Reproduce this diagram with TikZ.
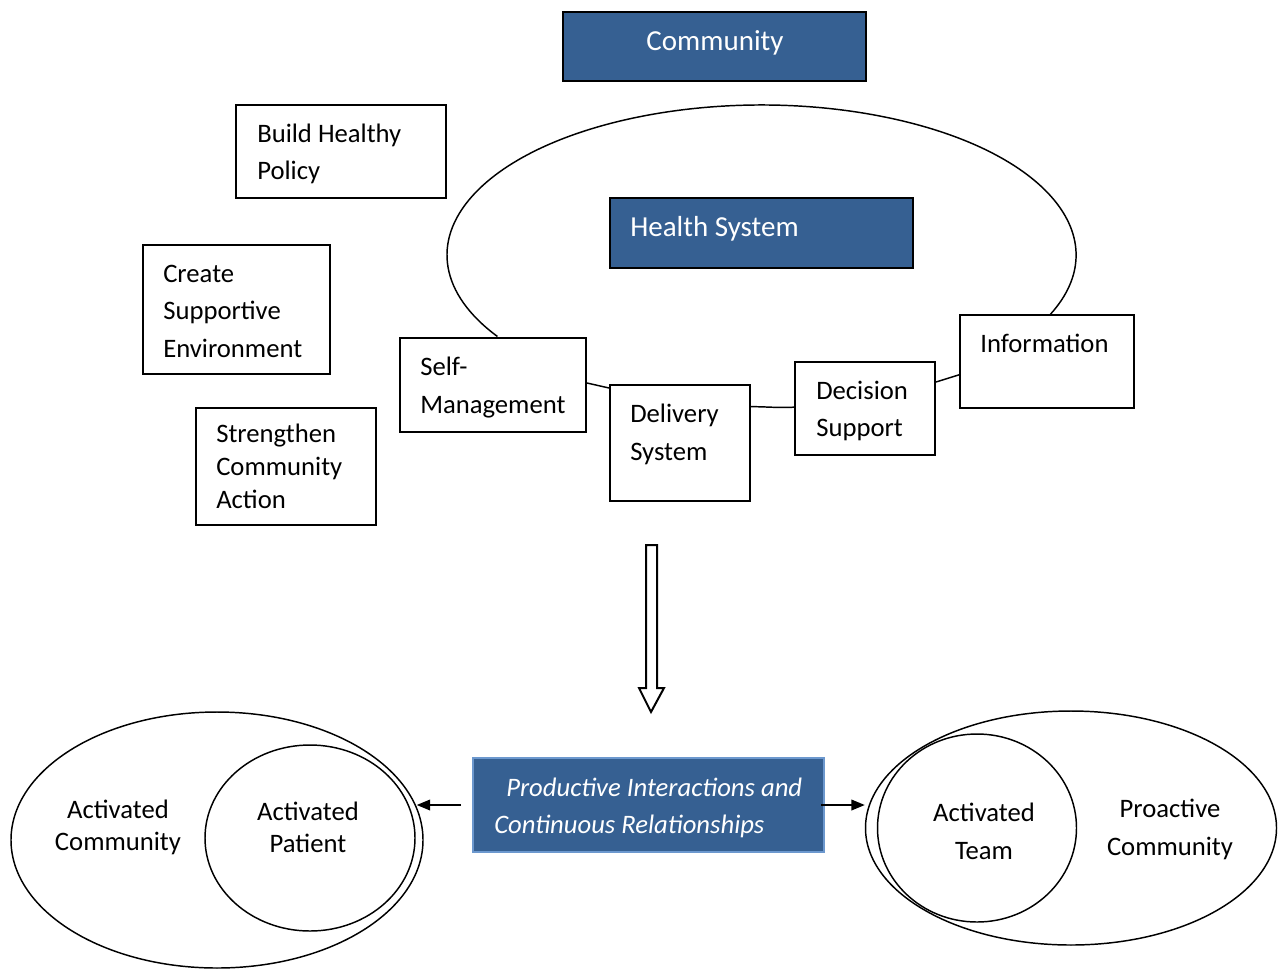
\documentclass[tikz,border=0pt]{standalone}
\usepackage{fontspec}
\setmainfont{Carlito}
\usetikzlibrary{shapes.geometric,arrows.meta,calc}
\definecolor{hblue}{RGB}{54,96,146}
\definecolor{hedge}{RGB}{108,152,206}
\newcommand\mkbox[6]{%
  \pgfmathsetmacro\bw{(#4-#2)*0.75}%
  \pgfmathsetmacro\bh{(#5-#3)*0.75}%
  \node[#6,minimum width=\bw pt,minimum height=\bh pt] (#1) at ({(#2+#4)/2},{(#3+#5)/2}) {};}
\tikzset{
  wbox/.style={rectangle,draw=black,line width=1.5pt,fill=white,inner sep=0pt},
  bbox/.style={rectangle,draw=black,line width=1.5pt,fill=hblue,inner sep=0pt},
  pbox/.style={rectangle,draw=hedge,line width=1.5pt,fill=hblue,inner sep=0pt},
  txt/.style={inner sep=0pt,align=left,anchor=base west,font=\fontsize{20}{27.75}\selectfont},
  txtc/.style={inner sep=0pt,align=center,anchor=base,font=\fontsize{20}{27.75}\selectfont},
  head/.style={inner sep=0pt,anchor=base west,text=white,font=\fontsize{21.75}{26}\selectfont},
  ell/.style={ellipse,draw=black,line width=1.1pt,inner sep=0pt},
  conn/.style={draw=black,line width=1.1pt},
  harrow/.style={draw=black,line width=1.5pt,fill=white,line join=miter},
  tip/.style={conn,-{Triangle[length=10pt,width=8pt]}}
}
\begin{document}
\begin{tikzpicture}[x=0.75pt,y=-0.75pt]
\useasboundingbox (0,0) rectangle (1284,968);
% big health-system ellipse arc
\coordinate (ec) at (761.5,255);
\draw[conn] ($(ec)+(-23.3:235.9pt and 112.5pt)$) arc[start angle=-23.3,end angle=212.9,x radius=235.9pt,y radius=112.5pt];
% top blue boxes
\mkbox{com}{563}{12}{866}{81}{bbox}
\node[head,anchor=base] (comt) at (715,50) {Community};
\mkbox{hs}{610}{198}{913}{268}{bbox}
\node[head] (hst) at (630,236) {Health System};
% left boxes (anchor: baseline of the last line)
\mkbox{bhp}{236}{105}{446}{198}{wbox}
\node[txt] (bhpt) at (257,179) {Build Healthy\\Policy};
\mkbox{cse}{143}{245}{330}{374}{wbox}
\node[txt,font=\fontsize{20}{28.1}\selectfont] (cset) at (163,357) {Create\\Supportive\\Environment};
\mkbox{sca}{196}{408}{376}{525}{wbox}
\node[txt,font=\fontsize{20}{24.4}\selectfont] (scat) at (216,508) {Strengthen\\Community\\Action};
% chronic care model boxes
\mkbox{sm}{400}{338}{586}{432}{wbox}
\node[txt,font=\fontsize{20}{28.5}\selectfont] (smt) at (420,413) {Self-\\Management};
\mkbox{ds}{610}{385}{750}{501}{wbox}
\node[txt,font=\fontsize{20}{28.5}\selectfont] (dst) at (630,460) {Delivery\\System};
\mkbox{dec}{795}{362}{935}{455}{wbox}
\node[txt] (dect) at (816,436) {Decision\\Support};
\mkbox{inf}{960}{315}{1134}{408}{wbox}
\node[txt] (inft) at (980,352) {Information};
% connectors between boxes
\draw[conn] ([yshift=1.5pt]sm.east) -- ([yshift=-3pt]ds.north west);
\draw[conn] ([yshift=-17pt]ds.north east) to[out=0,in=183] ([yshift=1pt]dec.west);
\draw[conn] ([yshift=-15.75pt]dec.north east) -- ([yshift=-10pt]inf.west);
% hollow down arrow
\draw[harrow] (646,545) -- (657,545) -- (657,688) -- (664,688) -- (651,712) -- (639,688) -- (646,688) -- cycle;
% productive interactions box
\mkbox{pi}{473}{758}{824}{852}{pbox}
\node[txt,text=white,font=\fontsize{20}{27.75}\selectfont\itshape] (pit1) at (506,796) {Productive Interactions and};
\node[txt,text=white,font=\fontsize{20}{27.75}\selectfont\itshape] (pit2) at (494,833) {Continuous Relationships};
% bottom ellipses
\node[ell,minimum width=309pt,minimum height=192pt] (lo) at (217,840) {};
\node[ell,minimum width=157.5pt,minimum height=139.5pt] (li) at (310,838) {};
\node[txtc,font=\fontsize{20}{24}\selectfont] (lot) at (118,850) {Activated\\Community};
\node[txtc,font=\fontsize{20}{24}\selectfont] (lit) at (308,852) {Activated\\Patient};
\node[ell,minimum width=308.25pt,minimum height=175.5pt] (ro) at (1071,828) {};
\node[ell,minimum width=149.25pt,minimum height=141pt] (ri) at (977,828) {};
\node[txtc,font=\fontsize{20}{28.5}\selectfont] (rit) at (984,859) {Activated\\Team};
\node[txtc,font=\fontsize{20}{28.5}\selectfont] (rot) at (1170,855) {Proactive\\Community};
% side arrows
\draw[tip] ([xshift=-8.25pt]pi.west) -- ([xshift=-5.25pt]pi.west -| lo.east);
\draw[tip] ([xshift=-3pt]pi.east) -- ([xshift=0pt]pi.east -| ro.west);
\end{tikzpicture}
\end{document}
